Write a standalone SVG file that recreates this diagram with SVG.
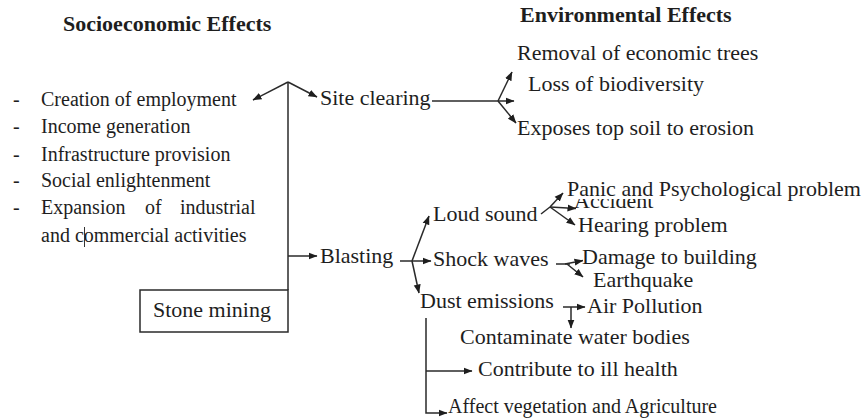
<svg xmlns="http://www.w3.org/2000/svg" width="864" height="418" viewBox="0 0 864 418">
<style>
.c{fill:none;stroke:#2a2a2a;stroke-width:1.5}
.a{marker-end:url(#ah)}
</style>
<defs>
<marker id="ah" markerUnits="userSpaceOnUse" markerWidth="9" markerHeight="8" refX="8.5" refY="4" orient="auto">
<path d="M0,0.5 L9,4 L0,7.5 Z" fill="#1e1e1e"/>
</marker>
</defs>
<rect width="864" height="418" fill="#fff"/>

<g id="title-socio"><text style="font-family:'Liberation Serif'" font-size="22" font-weight="bold" fill="#1e1e1e" x="63" y="31">Socioeconomic Effects</text></g>
<g id="title-env"><text style="font-family:'Liberation Serif'" font-size="22" font-weight="bold" fill="#1e1e1e" x="520" y="22">Environmental Effects</text></g>

<g id="socio-list" fill="#1e1e1e" font-size="20">
<text style="font-family:'Liberation Serif'" x="13" y="106">-</text>
<text style="font-family:'Liberation Serif'" x="13" y="133">-</text>
<text style="font-family:'Liberation Serif'" x="13" y="161">-</text>
<text style="font-family:'Liberation Serif'" x="13" y="187">-</text>
<text style="font-family:'Liberation Serif'" x="13" y="214">-</text>
<text style="font-family:'Liberation Serif'" x="41" y="106">Creation of employment</text>
<text style="font-family:'Liberation Serif'" x="41" y="133">Income generation</text>
<text style="font-family:'Liberation Serif'" x="41" y="161">Infrastructure provision</text>
<text style="font-family:'Liberation Serif'" x="41" y="187">Social enlightenment</text>
<text style="font-family:'Liberation Serif'" x="41" y="214">Expansion <tspan x="145">of</tspan> <tspan x="180">industrial</tspan></text>
<text style="font-family:'Liberation Serif'" x="41" y="242">and commercial activities</text>
<line x1="84.5" y1="227" x2="84.5" y2="247" stroke="#333" stroke-width="1"/>
</g>

<g id="stone-mining">
<rect x="140" y="290" width="148" height="42" fill="#fff" stroke="#2a2a2a" stroke-width="1.5"/>
<text style="font-family:'Liberation Serif'" font-size="22" fill="#1e1e1e" x="153" y="317">Stone mining</text>
</g>

<g id="labels" font-size="22" fill="#1e1e1e">
<g id="site-clearing"><text style="font-family:'Liberation Serif'" x="320" y="105">Site clearing</text></g>
<g id="removal"><text style="font-family:'Liberation Serif'" x="517" y="60">Removal of economic trees</text></g>
<g id="loss"><text style="font-family:'Liberation Serif'" x="528" y="91">Loss of biodiversity</text></g>
<g id="exposes"><text style="font-family:'Liberation Serif'" x="517" y="135">Exposes top soil to erosion</text></g>
<g id="blasting"><text style="font-family:'Liberation Serif'" x="320" y="263">Blasting</text></g>
<g id="loud-sound"><text style="font-family:'Liberation Serif'" x="433" y="221">Loud sound</text></g>
<g id="shock-waves"><text style="font-family:'Liberation Serif'" x="433" y="266">Shock waves</text></g>
<g id="dust-emissions"><text style="font-family:'Liberation Serif'" x="420" y="308">Dust emissions</text></g>
<g id="accident"><text style="font-family:'Liberation Serif'" x="574" y="208">Accident</text></g>
<g id="panic">
<rect x="566" y="180" width="296" height="19" fill="#fff"/>
<text style="font-family:'Liberation Serif'" x="567" y="196">Panic and Psychological problem</text>
</g>
<g id="hearing"><text style="font-family:'Liberation Serif'" x="578" y="232">Hearing problem</text></g>
<g id="damage"><text style="font-family:'Liberation Serif'" x="582" y="264">Damage to building</text></g>
<g id="earthquake"><text style="font-family:'Liberation Serif'" x="593" y="287">Earthquake</text></g>
<g id="air-pollution"><text style="font-family:'Liberation Serif'" x="587" y="313">Air Pollution</text></g>
<g id="contaminate"><text style="font-family:'Liberation Serif'" x="460" y="344">Contaminate water bodies</text></g>
<g id="ill-health"><text style="font-family:'Liberation Serif'" x="478" y="376">Contribute to ill health</text></g>
<g id="vegetation"><text style="font-family:'Liberation Serif'" font-size="20" x="448" y="413">Affect vegetation and Agriculture</text></g>
</g>

<g id="connectors">
<path class="c" d="M288 290 V82"/>
<path class="c a" d="M288 82 L253 100"/>
<path class="c a" d="M288 82 L317 97"/>
<path class="c" d="M432 101 H498"/>
<path class="c a" d="M498 101 L512 72"/>
<path class="c a" d="M498 101 H514"/>
<path class="c a" d="M498 101 L516 123"/>
<path class="c a" d="M288 256 H317"/>
<path class="c" d="M400 261 H412"/>
<path class="c a" d="M412 261 L429 216"/>
<path class="c a" d="M412 261 H431"/>
<path class="c a" d="M412 261 L419 293"/>
<path class="c" d="M541 214 L550 207"/>
<path class="c a" d="M550 207 L563 193"/>
<path class="c a" d="M550 207 L576 208.5"/>
<path class="c a" d="M550 207 L575 225"/>
<path class="c" d="M556 264 H570"/>
<path class="c a" d="M565 264 L583 260.5"/>
<path class="c a" d="M567 264 L583 277"/>
<path class="c a" d="M563 307 H585"/>
<path class="c a" d="M571 307 V328"/>
<path class="c a" d="M426 318 V413 H447"/>
<path class="c a" d="M426 371 H472"/>
</g>
</svg>
